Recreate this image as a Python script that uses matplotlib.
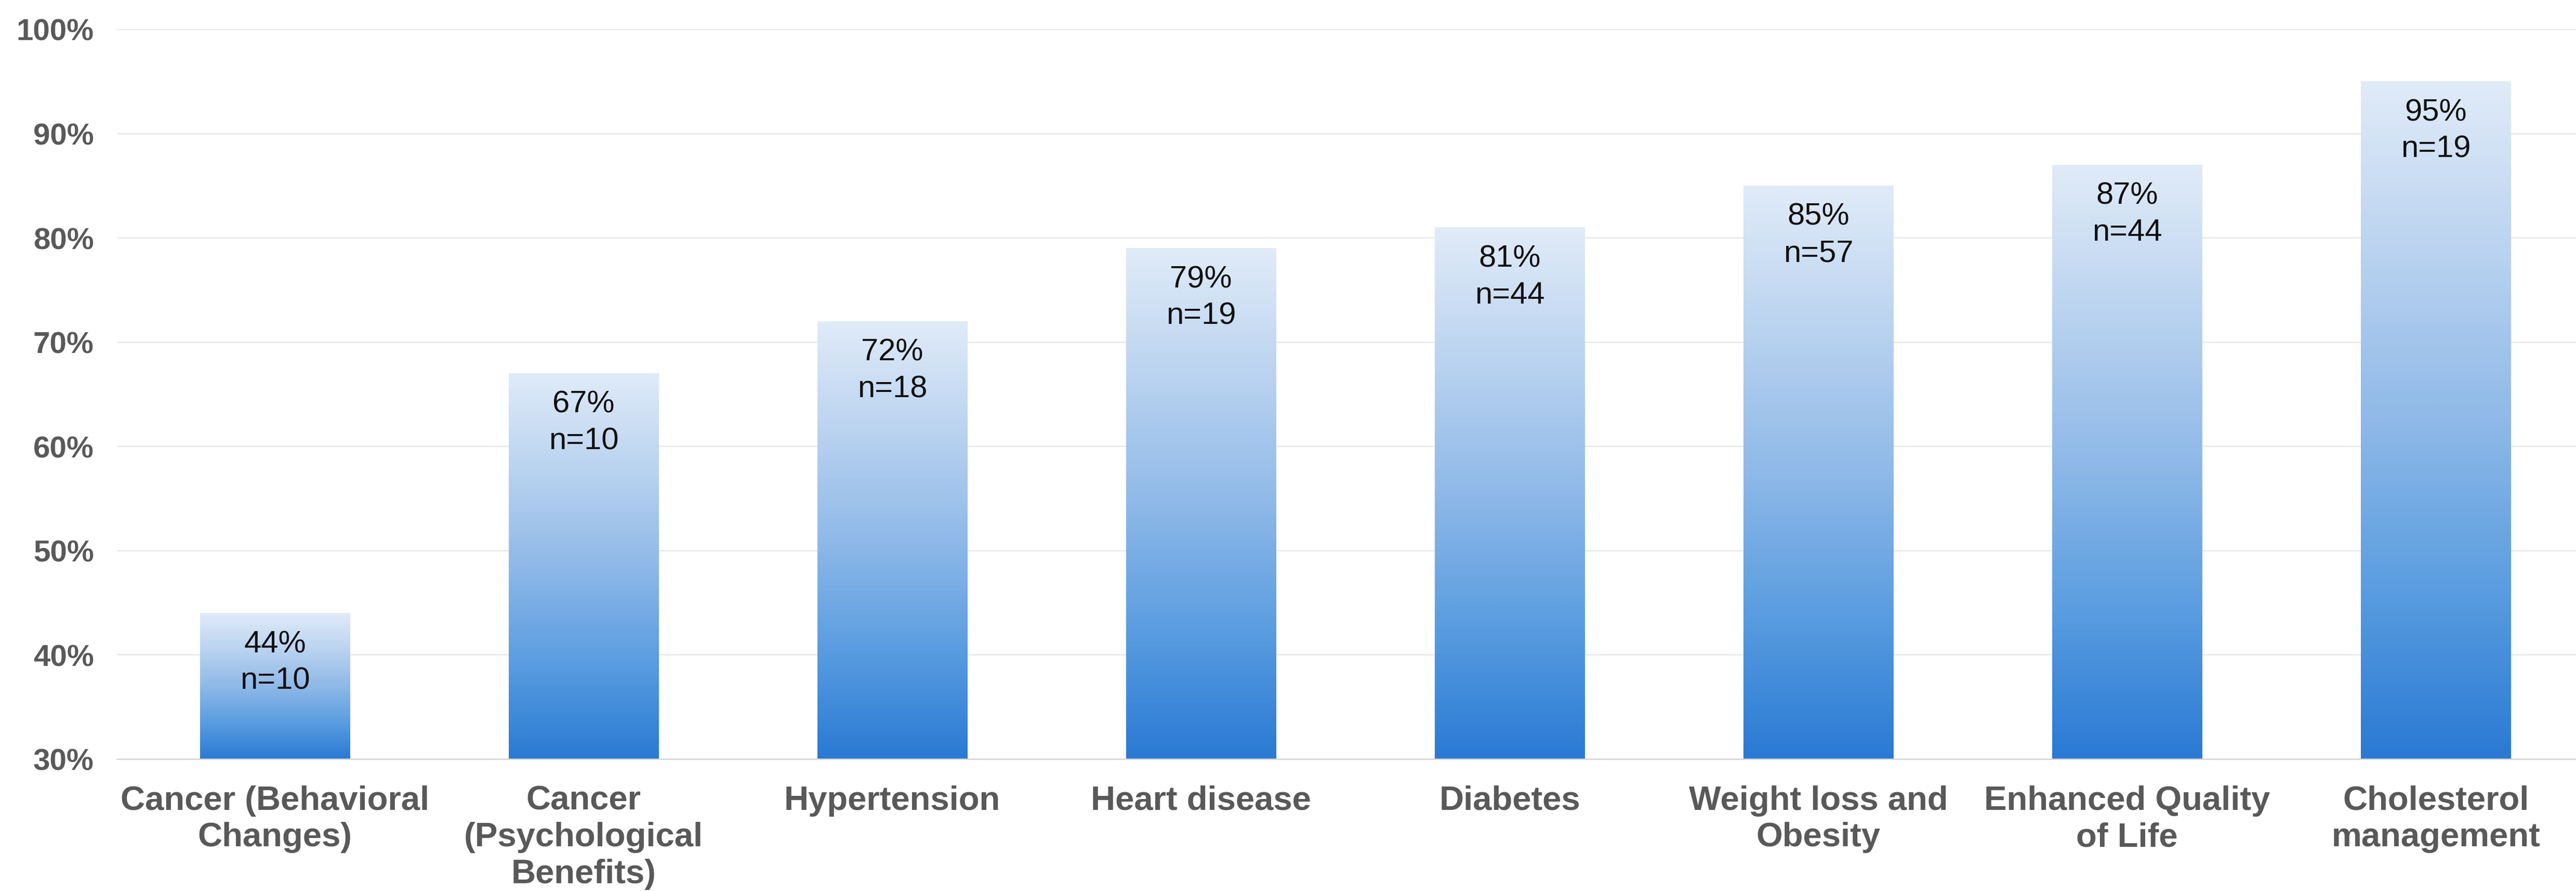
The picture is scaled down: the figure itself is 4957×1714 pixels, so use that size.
import numpy as np
import matplotlib
matplotlib.use("Agg")
import matplotlib.pyplot as plt
from matplotlib.colors import LinearSegmentedColormap
from matplotlib.ticker import PercentFormatter

# Share of studies reporting a benefit, per health outcome
categories = [
    "Cancer (Behavioral\nChanges)",
    "Cancer\n(Psychological\nBenefits)",
    "Hypertension",
    "Heart disease",
    "Diabetes",
    "Weight loss and\nObesity",
    "Enhanced Quality\nof Life",
    "Cholesterol\nmanagement",
]
percent = [44, 67, 72, 79, 81, 85, 87, 95]
counts = [10, 10, 18, 19, 44, 57, 44, 19]
y_ticks = [30, 40, 50, 60, 70, 80, 90, 100]

plt.rcParams["font.family"] = ["Liberation Sans", "DejaVu Sans"]

W, H = 4957, 1715
fig = plt.figure(figsize=(W / 100, H / 100), dpi=100)
left_px, top_px, base_px = 225, 57, 1461
ax = fig.add_axes([left_px / W, (H - base_px) / H, (W - left_px) / W, (base_px - top_px) / H])

y_min, y_max = y_ticks[0] / 100, y_ticks[-1] / 100
x = np.arange(len(categories))
vals = np.array(percent) / 100.0

# vertical blue gradient used for each bar (dark at the base, pale at the top)
grad_cmap = LinearSegmentedColormap.from_list(
    "bar_grad", ["#2a7ad4", "#5a9de0", "#8fb9e8", "#bad3f0", "#e0ebf8"]
)
grad = np.linspace(0, 1, 256).reshape(-1, 1)

bars = ax.bar(x, vals - y_min, bottom=y_min, width=0.485,
              facecolor="none", edgecolor="none", zorder=3)
for rect in bars:
    x0, y0 = rect.get_x(), rect.get_y()
    x1, y1 = x0 + rect.get_width(), y0 + rect.get_height()
    im = ax.imshow(grad, cmap=grad_cmap, origin="lower", aspect="auto",
                   extent=[x0, x1, y0, y1], zorder=3, interpolation="bicubic")
    im.set_clip_path(rect)

for xi, v, p, n in zip(x, vals, percent, counts):
    ax.annotate(f"{p}%\nn={n}", xy=(xi, v), xytext=(0, -23),
                textcoords="offset points", ha="center", va="top",
                fontsize=43, color="#111111", linespacing=1.36, zorder=4)

ax.set_xlim(-0.512, 7.454)
ax.set_ylim(y_min, y_max)
ax.set_yticks(np.array(y_ticks) / 100)
ax.yaxis.set_major_formatter(PercentFormatter(1.0, decimals=0))

ax.set_xticks(x)
ax.set_xticklabels(categories, fontsize=47, fontweight="bold", color="#595959",
                   linespacing=1.22)
for lbl in ax.get_yticklabels():
    lbl.set_fontsize(42)
    lbl.set_fontweight("bold")
    lbl.set_color("#595959")

ax.tick_params(axis="x", length=0, pad=36)
ax.tick_params(axis="y", length=0, pad=32)

ax.grid(axis="y", color="#e8e8e8", linewidth=1.8, zorder=0)
ax.set_axisbelow(True)
for side in ["top", "right", "left"]:
    ax.spines[side].set_visible(False)
ax.spines["bottom"].set_color("#d6d6d6")
ax.spines["bottom"].set_linewidth(1.8)
ax.spines["bottom"].set_zorder(5)

fig.savefig("out.png", dpi=100, facecolor="white")
